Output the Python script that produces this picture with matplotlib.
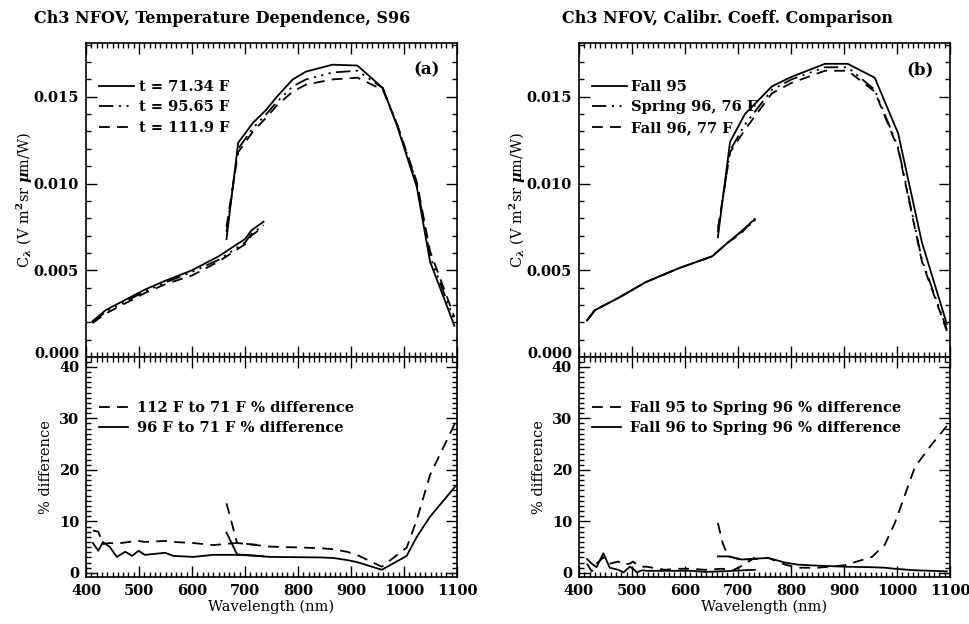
import matplotlib
matplotlib.use("Agg")
import matplotlib.pyplot as plt
from matplotlib.ticker import MultipleLocator, FormatStrFormatter
from matplotlib.transforms import ScaledTranslation

plt.rcParams['font.family'] = 'DejaVu Serif'
plt.rcParams['font.weight'] = 'bold'
plt.rcParams['mathtext.fontset'] = 'dejavuserif'
plt.rcParams['font.size'] = 10.5

# ---- panel (a): temperature dependence, S96 ----
wl_a1 = [412, 437, 462, 487, 512, 550, 600, 650, 675, 700, 712, 735]
c71_a1 = [0.00205, 0.0027, 0.0031, 0.0035, 0.0039, 0.0044, 0.0050, 0.0058, 0.0063, 0.0068, 0.0073, 0.0078]
c96_a1 = [0.00200, 0.0026, 0.0030, 0.0034, 0.0038, 0.0043, 0.0049, 0.0056, 0.0061, 0.0066, 0.0071, 0.0076]
c112_a1 = [0.00195, 0.0025, 0.0029, 0.0033, 0.0037, 0.0042, 0.0047, 0.0055, 0.0060, 0.0065, 0.0070, 0.0075]

wl_a2 = [665, 687, 715, 740, 760, 790, 815, 865, 912, 960, 987, 1024, 1049, 1095]
c71_a2 = [0.0068, 0.01235, 0.0135, 0.01425, 0.0150, 0.0160, 0.01645, 0.01685, 0.0168, 0.0155, 0.0133, 0.0098, 0.0055, 0.0018]
c96_a2 = [0.0072, 0.0120, 0.0132, 0.0140, 0.0147, 0.0156, 0.0160, 0.0164, 0.0165, 0.0155, 0.0134, 0.0100, 0.0058, 0.0021]
c112_a2 = [0.0075, 0.0118, 0.0130, 0.0138, 0.0145, 0.0153, 0.0157, 0.0160, 0.0161, 0.0154, 0.0134, 0.0101, 0.0061, 0.0023]

wl_da1 = [413, 423, 432, 445, 458, 474, 487, 499, 511, 549, 565, 602, 640, 684, 728, 735]
d96_a1 = [5.8, 4.3, 6.0, 5.0, 3.1, 4.1, 3.3, 4.3, 3.5, 3.9, 3.3, 3.1, 3.5, 3.5, 3.3, 3.2]
d112_a1 = [8.2, 8.0, 5.6, 5.8, 5.7, 5.9, 6.1, 6.2, 6.0, 6.2, 6.0, 5.8, 5.4, 5.8, 5.4, 5.4]

wl_da2 = [665, 685, 747, 842, 866, 892, 911, 958, 1005, 1024, 1049, 1096]
d96_a2 = [7.8, 3.6, 3.1, 3.0, 2.9, 2.5, 2.1, 0.6, 3.3, 7.0, 10.9, 16.7]
d112_a2 = [13.5, 5.8, 5.1, 4.8, 4.6, 4.1, 3.5, 1.2, 4.9, 10.3, 19.0, 29.0]

# ---- panel (b): calibration coefficient comparison ----
wl_b1 = [415, 430, 474, 525, 587, 651, 681, 705, 726, 732]
f95_b1 = [0.0021, 0.0027, 0.0034, 0.0043, 0.0051, 0.0058, 0.0066, 0.0072, 0.0078, 0.0079]
s96_b1 = [0.0021, 0.0027, 0.0034, 0.0043, 0.0051, 0.0058, 0.0066, 0.0072, 0.0077, 0.0080]
f96_b1 = [0.0021, 0.0027, 0.0034, 0.0043, 0.0051, 0.0058, 0.0066, 0.0071, 0.0078, 0.0079]

wl_b2 = [662, 685, 713, 764, 801, 864, 907, 958, 1002, 1047, 1094]
f95_b2 = [0.0069, 0.0124, 0.0140, 0.0156, 0.01615, 0.0169, 0.0169, 0.0161, 0.0129, 0.0066, 0.0019]
s96_b2 = [0.0072, 0.0119, 0.0134, 0.0154, 0.0160, 0.0167, 0.0167, 0.0154, 0.0121, 0.0056, 0.0016]
f96_b2 = [0.0074, 0.0118, 0.0131, 0.0152, 0.0158, 0.0165, 0.0165, 0.0153, 0.0120, 0.0055, 0.0015]

wl_db1 = [415, 424, 433, 446, 458, 474, 484, 496, 502, 509, 519, 528, 562, 587, 612, 638, 669, 690, 710, 732]
dfs_b1 = [1.8, 0.3, 1.8, 3.0, 1.8, 2.2, 1.6, 1.8, 2.2, 1.6, 1.2, 1.2, 0.6, 0.8, 0.8, 0.6, 0.8, 0.5, 1.5, 3.0]
dff_b1 = [2.7, 1.8, 1.1, 3.8, 1.0, 0.6, 0.1, 1.2, 0.8, 0.1, 0.5, 0.4, 0.4, 0.4, 0.4, 0.2, 0.3, 0.4, 0.5, 0.6]

wl_db2 = [662, 671, 681, 707, 757, 789, 813, 851, 902, 953, 977, 996, 1034, 1066, 1094]
dfs_b2 = [9.7, 5.8, 3.3, 2.5, 2.9, 1.6, 1.0, 1.0, 1.5, 3.1, 5.5, 9.7, 20.6, 25.0, 28.5]
dff_b2 = [3.2, 3.2, 3.2, 2.6, 2.9, 2.0, 1.6, 1.4, 1.2, 1.1, 1.0, 0.8, 0.5, 0.4, 0.3]

upper_ticks = [0.000, 0.005, 0.010, 0.015]
lower_ticks = [0, 10, 20, 30, 40]

dashdot3 = (0, (8, 3, 1.2, 3, 1.2, 3, 1.2, 3))
dashed = (0, (6, 4))
lw = 1.3

fig = plt.figure(figsize=(9.7, 6.24), dpi=100)


def style(ax, ymin):
    ax.set_xlim(400, 1100)
    ax.xaxis.set_major_locator(MultipleLocator(100))
    ax.xaxis.set_minor_locator(MultipleLocator(10))
    ax.yaxis.set_minor_locator(MultipleLocator(ymin))
    ax.tick_params(which='both', direction='in', top=True, right=True, width=1)
    ax.tick_params(which='major', length=8, labelsize=10.5, pad=5)
    ax.tick_params(which='minor', length=3.5)
    for s in ax.spines.values():
        s.set_linewidth(1.2)


panels = [
    (0.0887, "Ch3 NFOV, Temperature Dependence, S96", 0.229, "(a)",
     [(wl_a1, wl_a2, c71_a1, c71_a2, '-', "t = 71.34 F"),
      (wl_a1, wl_a2, c96_a1, c96_a2, dashdot3, "t = 95.65 F"),
      (wl_a1, wl_a2, c112_a1, c112_a2, dashed, "t = 111.9 F")],
     [(wl_da1, wl_da2, d112_a1, d112_a2, dashed, "112 F to 71 F % difference"),
      (wl_da1, wl_da2, d96_a1, d96_a2, '-', "96 F to 71 F % difference")]),
    (0.5969, "Ch3 NFOV, Calibr. Coeff. Comparison", 0.750, "(b)",
     [(wl_b1, wl_b2, f95_b1, f95_b2, '-', "Fall 95"),
      (wl_b1, wl_b2, s96_b1, s96_b2, dashdot3, "Spring 96, 76 F"),
      (wl_b1, wl_b2, f96_b1, f96_b2, dashed, "Fall 96, 77 F")],
     [(wl_db1, wl_db2, dfs_b1, dfs_b2, dashed, "Fall 95 to Spring 96 % difference"),
      (wl_db1, wl_db2, dff_b1, dff_b2, '-', "Fall 96 to Spring 96 % difference")]),
]

for left, title, tx, tag, upper, lower in panels:
    ax1 = fig.add_axes([left, 0.4279, 0.3825, 0.5032])
    ax2 = fig.add_axes([left, 0.0753, 0.3825, 0.3526])

    for w1, w2, y1, y2, ls, lab in upper:
        ax1.plot(w1, y1, color='black', ls=ls, lw=lw, label=lab)
        ax1.plot(w2, y2, color='black', ls=ls, lw=lw)
    for w1, w2, y1, y2, ls, lab in lower:
        ax2.plot(w1, y1, color='black', ls=ls, lw=lw, label=lab)
        ax2.plot(w2, y2, color='black', ls=ls, lw=lw)

    style(ax1, 0.001)
    ax1.set_ylim(0, 0.0181)
    ax1.set_yticks(upper_ticks)
    ax1.yaxis.set_major_formatter(FormatStrFormatter('%.3f'))
    zero_lab = ax1.get_yticklabels()[0]
    zero_lab.set_transform(zero_lab.get_transform() + ScaledTranslation(0, 0.045, fig.dpi_scale_trans))
    ax1.tick_params(labelbottom=False)
    ax1.set_ylabel(r'C$_\lambda$ (V m$^2$sr $\mu$m/W)', fontsize=10.5, labelpad=-1)
    ax1.text(0.955, 0.915, tag, transform=ax1.transAxes, ha='right', va='center', fontsize=12)
    ax1.legend(loc='upper left', bbox_to_anchor=(0.0, 0.925), frameon=False,
               handlelength=2.4, handletextpad=0.3, labelspacing=0.45, fontsize=10.5)

    style(ax2, 1)
    ax2.set_ylim(-0.8, 41.9)
    ax2.set_yticks(lower_ticks)
    ax2.set_xlabel('Wavelength (nm)', fontsize=10.5, labelpad=1)
    ax2.set_ylabel('% difference', fontsize=10.5, labelpad=4)
    ax2.legend(loc='upper left', bbox_to_anchor=(0.0, 0.86), frameon=False,
               handlelength=2.0, handletextpad=0.6, labelspacing=0.45, fontsize=10.5)

    fig.text(tx, 0.971, title, ha='center', va='center', fontsize=11.5)

fig.savefig('out.png', dpi=100)
